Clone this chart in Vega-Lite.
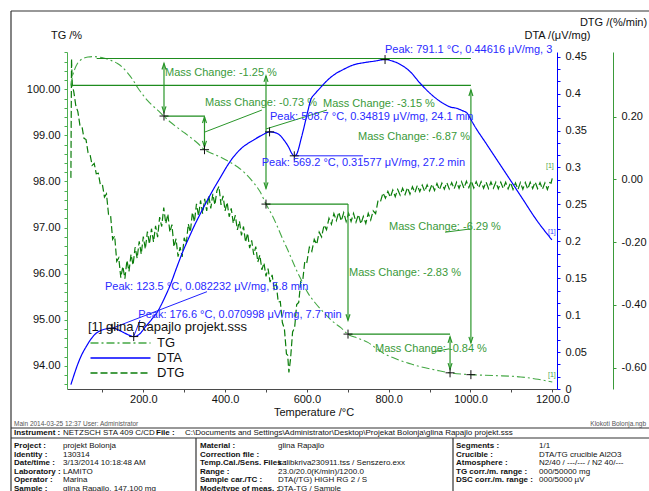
{
  "$schema": "https://vega.github.io/schema/vega-lite/v6.json",
  "width": 490,
  "height": 337,
  "autosize": {"type": "none"},
  "padding": {"left": 67, "top": 52, "right": 92, "bottom": 102},
  "background": "white",
  "config": {
    "font": "Liberation Sans",
    "view": {"stroke": null},
    "axis": {"grid": false, "labelFlush": false, "labelOverlap": false, "labelBound": false},
    "legend": {"labelOffset": 30, "labelAlign": "left", "symbolOffset": 26}
  },
  "datasets": {
    "tg": [
      {"T":23,"TG":100.08},{"T":27,"TG":100.28},{"T":33,"TG":100.45},{"T":39,"TG":100.56},{"T":46,"TG":100.63},{"T":53,"TG":100.67},{"T":65,"TG":100.70},{"T":78,"TG":100.71},{"T":90,"TG":100.70},{"T":103,"TG":100.68},{"T":120,"TG":100.63},{"T":137,"TG":100.56},{"T":150,"TG":100.47},{"T":161,"TG":100.36},{"T":174,"TG":100.21},{"T":186,"TG":100.04},{"T":198,"TG":99.89},{"T":210,"TG":99.76},{"T":222,"TG":99.65},{"T":235,"TG":99.55},{"T":250,"TG":99.42},{"T":266,"TG":99.29},{"T":283,"TG":99.17},{"T":300,"TG":99.06},{"T":315,"TG":98.96},{"T":333,"TG":98.83},{"T":350,"TG":98.69},{"T":370,"TG":98.60},{"T":389,"TG":98.53},{"T":410,"TG":98.43},{"T":430,"TG":98.32},{"T":450,"TG":98.17},{"T":470,"TG":97.97},{"T":486,"TG":97.77},{"T":500,"TG":97.51},{"T":515,"TG":97.27},{"T":528,"TG":97.02},{"T":540,"TG":96.77},{"T":553,"TG":96.52},{"T":565,"TG":96.27},{"T":577,"TG":96.03},{"T":590,"TG":95.80},{"T":602,"TG":95.59},{"T":620,"TG":95.37},{"T":641,"TG":95.16},{"T":665,"TG":94.95},{"T":683,"TG":94.83},{"T":700,"TG":94.69},{"T":725,"TG":94.60},{"T":749,"TG":94.51},{"T":770,"TG":94.38},{"T":788,"TG":94.27},{"T":810,"TG":94.18},{"T":830,"TG":94.11},{"T":855,"TG":94.04},{"T":878,"TG":93.98},{"T":915,"TG":93.91},{"T":950,"TG":93.85},{"T":1001,"TG":93.81},{"T":1060,"TG":93.79},{"T":1123,"TG":93.76},{"T":1165,"TG":93.71},{"T":1200,"TG":93.65}
    ],
    "dta": [
      {"T":23,"v":0.006},{"T":30,"v":0.018},{"T":40,"v":0.034},{"T":50,"v":0.047},{"T":60,"v":0.057},{"T":70,"v":0.066},{"T":80,"v":0.073},{"T":95,"v":0.079},{"T":110,"v":0.0815},{"T":123.5,"v":0.0822},{"T":135,"v":0.081},{"T":150,"v":0.077},{"T":165,"v":0.073},{"T":176.6,"v":0.071},{"T":190,"v":0.074},{"T":205,"v":0.084},{"T":220,"v":0.094},{"T":234,"v":0.104},{"T":250,"v":0.121},{"T":266,"v":0.141},{"T":282,"v":0.165},{"T":298,"v":0.188},{"T":310,"v":0.203},{"T":323,"v":0.219},{"T":340,"v":0.238},{"T":357,"v":0.256},{"T":373,"v":0.272},{"T":389,"v":0.287},{"T":405,"v":0.302},{"T":420,"v":0.314},{"T":440,"v":0.326},{"T":469,"v":0.337},{"T":491,"v":0.344},{"T":508.7,"v":0.3482},{"T":520,"v":0.3475},{"T":531,"v":0.345},{"T":540,"v":0.340},{"T":548,"v":0.334},{"T":556,"v":0.327},{"T":562,"v":0.320},{"T":569.2,"v":0.3158},{"T":575,"v":0.318},{"T":580,"v":0.326},{"T":585,"v":0.337},{"T":591,"v":0.350},{"T":597,"v":0.364},{"T":603,"v":0.378},{"T":609,"v":0.391},{"T":620,"v":0.400},{"T":633,"v":0.408},{"T":650,"v":0.418},{"T":665,"v":0.425},{"T":690,"v":0.433},{"T":714,"v":0.439},{"T":740,"v":0.442},{"T":765,"v":0.444},{"T":791.1,"v":0.4462},{"T":810,"v":0.444},{"T":827,"v":0.440},{"T":852,"v":0.430},{"T":877,"v":0.414},{"T":902,"v":0.400},{"T":927,"v":0.389},{"T":950,"v":0.382},{"T":967,"v":0.380},{"T":980,"v":0.377},{"T":991,"v":0.374},{"T":1000,"v":0.366},{"T":1006,"v":0.360},{"T":1040,"v":0.331},{"T":1089,"v":0.290},{"T":1128,"v":0.257},{"T":1160,"v":0.230},{"T":1199,"v":0.202}
    ],
    "dtg": [
      {"T":23,"d":0.005},{"T":24.5,"d":0.385},{"T":26.5,"d":0.30},{"T":30,"d":0.280},{"T":35,"d":0.235},{"T":40,"d":0.216},{"T":45,"d":0.173},{"T":50,"d":0.169},{"T":55,"d":0.131},{"T":60,"d":0.127},{"T":65,"d":0.085},{"T":70,"d":0.078},{"T":75,"d":0.045},{"T":80,"d":0.051},{"T":85,"d":0.018},{"T":90,"d":0.020},{"T":95,"d":-0.017},{"T":100,"d":-0.016},{"T":105,"d":-0.056},{"T":110,"d":-0.046},{"T":115,"d":-0.112},{"T":120,"d":-0.114},{"T":125,"d":-0.191},{"T":130,"d":-0.180},{"T":135,"d":-0.261},{"T":140,"d":-0.250},{"T":145,"d":-0.313},{"T":150,"d":-0.277},{"T":155,"d":-0.316},{"T":160,"d":-0.258},{"T":165,"d":-0.293},{"T":170,"d":-0.239},{"T":175,"d":-0.273},{"T":180,"d":-0.216},{"T":185,"d":-0.251},{"T":190,"d":-0.197},{"T":195,"d":-0.238},{"T":200,"d":-0.182},{"T":205,"d":-0.222},{"T":210,"d":-0.166},{"T":215,"d":-0.206},{"T":220,"d":-0.157},{"T":225,"d":-0.199},{"T":230,"d":-0.148},{"T":235,"d":-0.184},{"T":240,"d":-0.120},{"T":245,"d":-0.150},{"T":250,"d":-0.090},{"T":255,"d":-0.141},{"T":260,"d":-0.110},{"T":265,"d":-0.168},{"T":270,"d":-0.144},{"T":275,"d":-0.215},{"T":280,"d":-0.189},{"T":285,"d":-0.246},{"T":290,"d":-0.216},{"T":295,"d":-0.247},{"T":300,"d":-0.186},{"T":305,"d":-0.206},{"T":310,"d":-0.142},{"T":315,"d":-0.168},{"T":320,"d":-0.105},{"T":325,"d":-0.135},{"T":330,"d":-0.078},{"T":335,"d":-0.116},{"T":340,"d":-0.067},{"T":345,"d":-0.109},{"T":350,"d":-0.062},{"T":355,"d":-0.100},{"T":360,"d":-0.051},{"T":365,"d":-0.092},{"T":370,"d":-0.046},{"T":375,"d":-0.081},{"T":380,"d":-0.036},{"T":385,"d":-0.022},{"T":390,"d":-0.081},{"T":395,"d":-0.052},{"T":400,"d":-0.100},{"T":405,"d":-0.073},{"T":410,"d":-0.119},{"T":415,"d":-0.092},{"T":420,"d":-0.140},{"T":425,"d":-0.114},{"T":430,"d":-0.161},{"T":435,"d":-0.133},{"T":440,"d":-0.178},{"T":445,"d":-0.150},{"T":450,"d":-0.200},{"T":455,"d":-0.171},{"T":460,"d":-0.219},{"T":465,"d":-0.194},{"T":470,"d":-0.240},{"T":475,"d":-0.214},{"T":480,"d":-0.263},{"T":485,"d":-0.241},{"T":490,"d":-0.288},{"T":495,"d":-0.266},{"T":500,"d":-0.309},{"T":505,"d":-0.284},{"T":510,"d":-0.327},{"T":515,"d":-0.304},{"T":520,"d":-0.349},{"T":525,"d":-0.334},{"T":530,"d":-0.391},{"T":535,"d":-0.389},{"T":540,"d":-0.456},{"T":545,"d":-0.476},{"T":550,"d":-0.556},{"T":553,"d":-0.560},{"T":556,"d":-0.615},{"T":560,"d":-0.572},{"T":565,"d":-0.486},{"T":570,"d":-0.473},{"T":575,"d":-0.399},{"T":580,"d":-0.392},{"T":585,"d":-0.324},{"T":590,"d":-0.320},{"T":595,"d":-0.259},{"T":600,"d":-0.264},
      {"T":606,"d":-0.216},{"T":612,"d":-0.229},{"T":618,"d":-0.191},{"T":624,"d":-0.207},{"T":630,"d":-0.168},{"T":636,"d":-0.183},{"T":642,"d":-0.145},{"T":648,"d":-0.160},{"T":654,"d":-0.124},{"T":660,"d":-0.143},{"T":666,"d":-0.109},{"T":672,"d":-0.131},{"T":678,"d":-0.104},{"T":684,"d":-0.132},{"T":690,"d":-0.106},{"T":696,"d":-0.134},{"T":702,"d":-0.108},{"T":708,"d":-0.134},{"T":714,"d":-0.108},{"T":720,"d":-0.136},{"T":726,"d":-0.112},{"T":732,"d":-0.142},{"T":738,"d":-0.118},{"T":744,"d":-0.140},{"T":750,"d":-0.108},{"T":756,"d":-0.129},{"T":762,"d":-0.100},{"T":768,"d":-0.109},{"T":774,"d":-0.067},{"T":780,"d":-0.070},{"T":786,"d":-0.043},{"T":792,"d":-0.060},{"T":798,"d":-0.038},{"T":804,"d":-0.057},{"T":810,"d":-0.034},{"T":816,"d":-0.055},{"T":822,"d":-0.032},{"T":828,"d":-0.050},{"T":834,"d":-0.028},{"T":840,"d":-0.048},{"T":846,"d":-0.026},{"T":852,"d":-0.047},{"T":858,"d":-0.023},{"T":864,"d":-0.042},{"T":870,"d":-0.019},{"T":876,"d":-0.039},{"T":882,"d":-0.018},{"T":888,"d":-0.038},{"T":894,"d":-0.017},{"T":900,"d":-0.036},{"T":906,"d":-0.015},{"T":912,"d":-0.035},{"T":918,"d":-0.013},{"T":924,"d":-0.033},{"T":930,"d":-0.012},{"T":936,"d":-0.031},{"T":942,"d":-0.010},{"T":948,"d":-0.030},{"T":954,"d":-0.010},{"T":960,"d":-0.030},{"T":966,"d":-0.009},{"T":972,"d":-0.028},{"T":978,"d":-0.007},{"T":984,"d":-0.028},{"T":990,"d":-0.006},{"T":996,"d":-0.026},{"T":1002,"d":-0.005},{"T":1008,"d":-0.027},{"T":1014,"d":-0.007},{"T":1020,"d":-0.027},{"T":1026,"d":-0.007},{"T":1032,"d":-0.028},{"T":1038,"d":-0.008},{"T":1044,"d":-0.029},{"T":1050,"d":-0.008},{"T":1056,"d":-0.028},{"T":1062,"d":-0.009},{"T":1068,"d":-0.030},{"T":1074,"d":-0.009},{"T":1080,"d":-0.029},{"T":1086,"d":-0.009},{"T":1092,"d":-0.030},{"T":1098,"d":-0.010},{"T":1104,"d":-0.032},{"T":1110,"d":-0.011},{"T":1116,"d":-0.032},{"T":1122,"d":-0.010},{"T":1128,"d":-0.031},{"T":1134,"d":-0.010},{"T":1140,"d":-0.031},{"T":1146,"d":-0.009},{"T":1152,"d":-0.029},{"T":1158,"d":-0.008},{"T":1164,"d":-0.029},{"T":1170,"d":-0.010},{"T":1176,"d":-0.031},{"T":1182,"d":-0.011},{"T":1188,"d":-0.032},{"T":1194,"d":-0.010},{"T":1197,"d":-0.012},{"T":1200,"d":0.004}
    ],
    "hLines": [
      {"T1":86,"T2":1001,"TG":100.668},{"T1":25.7,"T2":1001,"TG":100.087},{"T1":250.6,"T2":349.6,"TG":99.42},{"T1":500,"T2":700.5,"TG":97.51},{"T1":700.5,"T2":950,"TG":94.69}
    ],
    "vArrows": [
      {"T":250.6,"TG1":100.56,"TG2":99.50},{"T":349.6,"TG1":99.40,"TG2":98.75},{"T":500,"TG1":100.29,"TG2":97.85},{"T":700.5,"TG1":97.51,"TG2":94.99},{"T":950,"TG1":94.63,"TG2":93.93},{"T":1001,"TG1":99.985,"TG2":94.50}
    ],
    "heads": [
      {"T":250.6,"TG":100.56,"dir":"up"},{"T":250.6,"TG":99.50,"dir":"down"},{"T":349.6,"TG":99.40,"dir":"up"},{"T":349.6,"TG":98.75,"dir":"down"},{"T":500,"TG":100.29,"dir":"up"},{"T":500,"TG":97.85,"dir":"down"},{"T":700.5,"TG":94.99,"dir":"down"},{"T":950,"TG":94.63,"dir":"up"},{"T":950,"TG":93.93,"dir":"down"},{"T":1001,"TG":99.985,"dir":"up"},{"T":1001,"TG":94.50,"dir":"down"}
    ],
    "leaders": [
      {"T1":349.6,"TG1":99.07,"T2":490,"TG2":99.55},{"T1":500,"TG1":99.14,"T2":649,"TG2":99.55},{"T1":938,"TG1":96.90,"T2":999,"TG2":96.97},{"T1":905,"TG1":94.30,"T2":948,"TG2":94.37}
    ],
    "tgMarks": [
      {"T":250.6,"TG":99.42},{"T":349.6,"TG":98.69},{"T":500,"TG":97.51},{"T":700.5,"TG":94.69},{"T":950,"TG":93.85},{"T":1001,"TG":93.81}
    ],
    "mcText": [
      {"T":253,"TG":100.354,"t":"Mass Change: -1.25 %"},{"T":350.9,"TG":99.70,"t":"Mass Change: -0.73 %"},{"T":639.4,"TG":99.68,"t":"Mass Change: -3.15 %"},{"T":725,"TG":98.965,"t":"Mass Change: -6.87 %"},{"T":800.7,"TG":97.01,"t":"Mass Change: -6.29 %"},{"T":703,"TG":96.01,"t":"Mass Change: -2.83 %"},{"T":766.5,"TG":94.37,"t":"Mass Change: -0.84 %"}
    ],
    "peaks": [
      {"T":123.5,"v":0.0822},{"T":176.6,"v":0.071},{"T":508.7,"v":0.3482},{"T":569.2,"v":0.3158},{"T":791.1,"v":0.4462}
    ],
    "peakText": [
      {"T":791,"v":0.4591,"t":"Peak: 791.1 °C, 0.44616 μV/mg, 3"},{"T":509.8,"v":0.3688,"t":"Peak: 508.7 °C, 0.34819 μV/mg, 24.1 min"},{"T":489.5,"v":0.306,"t":"Peak: 569.2 °C, 0.31577 μV/mg, 27.2 min"},{"T":106.4,"v":0.1385,"t":"Peak: 123.5 °C, 0.082232 μV/mg, 5.8 min"},{"T":187.8,"v":0.1002,"t":"Peak: 176.6 °C, 0.070998 μV/mg, 7.7 min"}
    ],
    "peakLeaders": [
      {"T1":123.5,"v1":0.0822,"T2":355.7,"v2":0.1318},{"T1":176.6,"v1":0.071,"T2":192,"v2":0.0934},{"T1":569.2,"v1":0.3158,"T2":737,"v2":0.3158}
    ],
    "tableLines": [
      {"c1":0,"c2":12,"r1":0,"r2":0},{"c1":0,"c2":0,"r1":0,"r2":11},{"c1":0,"c2":12,"r1":2,"r2":2},{"c1":0,"c2":12,"r1":4,"r2":4},{"c1":5,"c2":5,"r1":4,"r2":11},{"c1":8,"c2":8,"r1":4,"r2":11}
    ],
    "tableText": [
      {"c":1,"r":3,"k":"label","t":"Instrument :"},{"c":2,"r":3,"k":"value","t":"NETZSCH STA 409 C/CD"},{"c":3,"r":3,"k":"label","t":"File :"},{"c":4,"r":3,"k":"value","t":"C:\\Documents and Settings\\Administrator\\Desktop\\Projekat Bolonja\\glina Rapajlo projekt.sss"},
      {"c":1,"r":5,"k":"label","t":"Project :"},{"c":2,"r":5,"k":"value","t":"projekt Bolonja"},
      {"c":1,"r":6,"k":"label","t":"Identity :"},{"c":2,"r":6,"k":"value","t":"130314"},
      {"c":1,"r":7,"k":"label","t":"Date/time :"},{"c":2,"r":7,"k":"value","t":"3/13/2014 10:18:48 AM"},
      {"c":1,"r":8,"k":"label","t":"Laboratory :"},{"c":2,"r":8,"k":"value","t":"LAMITO"},
      {"c":1,"r":9,"k":"label","t":"Operator :"},{"c":2,"r":9,"k":"value","t":"Marina"},
      {"c":1,"r":10,"k":"label","t":"Sample :"},{"c":2,"r":10,"k":"value","t":"glina Rapajlo, 147,100 mg"},
      {"c":6,"r":5,"k":"label","t":"Material :"},{"c":7,"r":5,"k":"value","t":"glina Rapajlo"},
      {"c":6,"r":6,"k":"label","t":"Correction file :"},
      {"c":6,"r":7,"k":"label","t":"Temp.Cal./Sens. Files :"},{"c":7,"r":7,"k":"value","t":"kalibkriva230911.tss / Senszero.exx"},
      {"c":6,"r":8,"k":"label","t":"Range :"},{"c":7,"r":8,"k":"value","t":"23.0/20.0(K/min)/1200.0"},
      {"c":6,"r":9,"k":"label","t":"Sample car./TC :"},{"c":7,"r":9,"k":"value","t":"DTA(/TG) HIGH RG 2 / S"},
      {"c":6,"r":10,"k":"label","t":"Mode/type of meas. :"},{"c":7,"r":10,"k":"value","t":"DTA-TG / Sample"},
      {"c":9,"r":5,"k":"label","t":"Segments :"},{"c":10,"r":5,"k":"value","t":"1/1"},
      {"c":9,"r":6,"k":"label","t":"Crucible :"},{"c":10,"r":6,"k":"value","t":"DTA/TG crucible Al2O3"},
      {"c":9,"r":7,"k":"label","t":"Atmosphere :"},{"c":10,"r":7,"k":"value","t":"N2/40 / ---/--- / N2 40/---"},
      {"c":9,"r":8,"k":"label","t":"TG corr./m. range :"},{"c":10,"r":8,"k":"value","t":"000/50000 mg"},
      {"c":9,"r":9,"k":"label","t":"DSC corr./m. range :"},{"c":10,"r":9,"k":"value","t":"000/5000 µV"},
      {"c":1,"r":1,"k":"meta","t":"Main   2014-03-25 12:37   User: Administrator"},
      {"c":11,"r":1,"k":"metaR","t":"Klokoti Bolonja.ngb"}
    ]
  },
  "layer": [
    {
      "layer": [
        {
          "data": {"name": "dtg"},
          "mark": {"type": "line", "strokeWidth": 1.2},
          "encoding": {
            "x": {"field": "T", "type": "quantitative", "scale": {"domain": [13.45, 1211.5], "nice": false, "zero": false}, "axis": null},
            "y": {"field": "d", "type": "quantitative", "scale": {"domain": [-0.6679, 0.4062], "nice": false, "zero": false},
              "axis": {"title": "DTG /(%/min)", "orient": "right", "offset": 56, "values": [-0.6,-0.5,-0.4,-0.3,-0.2,-0.1,0,0.1,0.2,0.3],
                "labelExpr": "abs(datum.value*5 - round(datum.value*5)) < 0.001 ? replace(format(datum.value, '.2f'), '\u2212', '-') : ''",
                "domainColor": "#3a9a3a", "tickColor": "#3a9a3a", "tickSize": 3, "labelPadding": 5, "labelFontSize": 11, "labelColor": "#111",
                "titleFontSize": 11, "titleFontWeight": "normal", "titleColor": "#111", "titleAngle": 0, "titleX": 0, "titleY": -29.5, "titleAlign": "center", "titleBaseline": "middle"}},
            "color": {"datum": "DTG", "type": "nominal", "scale": {"domain": ["TG","DTA","DTG"], "range": ["#45a845","#0000ff","#0a7d0a"]},
              "legend": {"title": "[1] glina Rapajlo projekt.sss", "orient": "none", "legendX": 21, "legendY": 269, "symbolType": "M-6,0H6", "symbolSize": 100, "symbolStrokeWidth": 1.3, "symbolOffset": 26, "labelOffset": 30, "labelAlign": "left", "labelFontSize": 13, "labelColor": "#111", "titleFontSize": 13, "titleFontWeight": "normal", "titleColor": "#111", "titlePadding": 2.5, "rowPadding": 1, "padding": 0, "titleLimit": 300}},
            "strokeDash": {"datum": "DTG", "type": "nominal", "scale": {"domain": ["TG","DTA","DTG"], "range": [[8,3,2,3],[1,0],[7,3]]}}
          }
        },
        {
          "data": {"values": [{"T":1194,"d":0.043,"t":"[1]"}]},
          "mark": {"type": "text", "fontSize": 7, "color": "#4aa64a", "align": "center", "baseline": "middle"},
          "encoding": {
            "x": {"field": "T", "type": "quantitative", "scale": {"domain": [13.45, 1211.5], "nice": false, "zero": false}, "axis": null},
            "y": {"field": "d", "type": "quantitative", "scale": {"domain": [-0.6679, 0.4062], "nice": false, "zero": false}},
            "text": {"field": "t"}
          }
        }
      ]
    },
    {
      "encoding": {
        "x": {"field": "T", "type": "quantitative", "scale": {"domain": [13.45, 1211.5], "nice": false, "zero": false},
          "axis": {"title": "Temperature /°C", "orient": "bottom", "values": [100,200,300,400,500,600,700,800,900,1000,1100,1200],
            "labelExpr": "datum.value % 200 === 0 ? format(datum.value, '.1f') : ''",
            "domainColor": "#4a4a4a", "tickColor": "#4a4a4a", "tickSize": 3, "labelPadding": 1, "labelFontSize": 11, "labelColor": "#111",
            "titleFontSize": 11, "titleFontWeight": "normal", "titleColor": "#111", "titleX": 246.5, "titleY": 23.5, "titleAlign": "center", "titleBaseline": "middle"}},
        "y": {"field": "TG", "type": "quantitative", "scale": {"domain": [93.499, 100.809], "nice": false, "zero": false},
          "axis": {"title": "TG /%", "orient": "left", "values": [93.6,93.8,94,94.2,94.4,94.6,94.8,95,95.2,95.4,95.6,95.8,96,96.2,96.4,96.6,96.8,97,97.2,97.4,97.6,97.8,98,98.2,98.4,98.6,98.8,99,99.2,99.4,99.6,99.8,100,100.2,100.4,100.6,100.8],
            "labelExpr": "abs(datum.value - round(datum.value)) < 0.001 ? format(datum.value, '.2f') : ''",
            "domainColor": "#4caf50", "tickColor": "#4caf50", "tickSize": 3, "labelPadding": 4, "labelFontSize": 11, "labelColor": "#111",
            "titleFontSize": 11, "titleFontWeight": "normal", "titleColor": "#111", "titleAngle": 0, "titleX": -1, "titleY": -17, "titleAlign": "center", "titleBaseline": "middle"}}
      },
      "layer": [
        {
          "data": {"name": "tg"},
          "mark": {"type": "line", "strokeWidth": 1.1, "interpolate": "monotone"},
          "encoding": {
            "color": {"datum": "TG", "type": "nominal", "scale": {"domain": ["TG","DTA","DTG"], "range": ["#45a845","#0000ff","#0a7d0a"]},
              "legend": {"title": "[1] glina Rapajlo projekt.sss", "orient": "none", "legendX": 21, "legendY": 269, "symbolType": "M-6,0H6", "symbolSize": 100, "symbolStrokeWidth": 1.3, "symbolOffset": 26, "labelOffset": 30, "labelAlign": "left", "labelFontSize": 13, "labelColor": "#111", "titleFontSize": 13, "titleFontWeight": "normal", "titleColor": "#111", "titlePadding": 2.5, "rowPadding": 1, "padding": 0, "titleLimit": 300}},
            "strokeDash": {"datum": "TG", "type": "nominal", "scale": {"domain": ["TG","DTA","DTG"], "range": [[8,3,2,3],[1,0],[7,3]]}}
          }
        },
        {
          "data": {"name": "hLines"},
          "mark": {"type": "rule", "color": "#1e8c1e", "strokeWidth": 1.2},
          "encoding": {"x": {"field": "T1", "type": "quantitative"}, "x2": {"field": "T2"}, "y": {"field": "TG", "type": "quantitative"}}
        },
        {
          "data": {"name": "vArrows"},
          "mark": {"type": "rule", "color": "#2a962a", "strokeWidth": 1.2},
          "encoding": {"x": {"field": "T", "type": "quantitative"}, "y": {"field": "TG1", "type": "quantitative"}, "y2": {"field": "TG2"}}
        },
        {
          "data": {"name": "leaders"},
          "mark": {"type": "rule", "color": "#2a962a", "strokeWidth": 1},
          "encoding": {"x": {"field": "T1", "type": "quantitative"}, "x2": {"field": "T2"}, "y": {"field": "TG1", "type": "quantitative"}, "y2": {"field": "TG2"}}
        },
        {
          "data": {"name": "heads"},
          "mark": {"type": "point", "filled": false, "color": "#2a962a", "strokeWidth": 1.2, "size": 16, "opacity": 1},
          "encoding": {"x": {"field": "T", "type": "quantitative"}, "y": {"field": "TG", "type": "quantitative"},
            "shape": {"field": "dir", "type": "nominal", "scale": {"domain": ["up","down"], "range": ["M-1,3L0,0L1,3", "M-1,-3L0,0L1,-3"]}, "legend": null}}
        },
        {
          "data": {"name": "tgMarks"},
          "mark": {"type": "point", "filled": false, "color": "#111", "strokeWidth": 1, "size": 81, "shape": "M-1,0H1M0,-1V1", "opacity": 1},
          "encoding": {"x": {"field": "T", "type": "quantitative"}, "y": {"field": "TG", "type": "quantitative"}}
        },
        {
          "data": {"name": "mcText"},
          "mark": {"type": "text", "align": "left", "baseline": "middle", "fontSize": 11, "color": "#3a9a3a"},
          "encoding": {"x": {"field": "T", "type": "quantitative"}, "y": {"field": "TG", "type": "quantitative"}, "text": {"field": "t"}}
        },
        {
          "data": {"values": [{"T":1199,"TG":93.80,"t":"[1]"}]},
          "mark": {"type": "text", "fontSize": 7, "color": "#4aa64a", "align": "center", "baseline": "middle"},
          "encoding": {"x": {"field": "T", "type": "quantitative"}, "y": {"field": "TG", "type": "quantitative"}, "text": {"field": "t"}}
        }
      ]
    },
    {
      "encoding": {
        "x": {"field": "T", "type": "quantitative", "scale": {"domain": [13.45, 1211.5], "nice": false, "zero": false}, "axis": null},
        "y": {"field": "v", "type": "quantitative", "scale": {"domain": [0, 0.4564], "nice": false, "zero": false},
          "axis": {"title": "DTA /(μV/mg)", "orient": "right", "values": [0,0.016667,0.033333,0.05,0.066667,0.083333,0.1,0.116667,0.133333,0.15,0.166667,0.183333,0.2,0.216667,0.233333,0.25,0.266667,0.283333,0.3,0.316667,0.333333,0.35,0.366667,0.383333,0.4,0.416667,0.433333,0.45],
            "labelExpr": "abs(datum.value*20 - round(datum.value*20)) < 0.001 ? format(datum.value, '~g') : ''",
            "domainColor": "#0000ff", "tickColor": "#0000ff", "tickSize": 3, "labelPadding": 5, "labelFontSize": 11, "labelColor": "#111",
            "titleFontSize": 11, "titleFontWeight": "normal", "titleColor": "#111", "titleAngle": 0, "titleX": 0, "titleY": -17, "titleAlign": "center", "titleBaseline": "middle"}}
      },
      "layer": [
        {
          "data": {"name": "dta"},
          "mark": {"type": "line", "strokeWidth": 1.2, "interpolate": "monotone"},
          "encoding": {
            "color": {"datum": "DTA", "type": "nominal", "scale": {"domain": ["TG","DTA","DTG"], "range": ["#45a845","#0000ff","#0a7d0a"]},
              "legend": {"title": "[1] glina Rapajlo projekt.sss", "orient": "none", "legendX": 21, "legendY": 269, "symbolType": "M-6,0H6", "symbolSize": 100, "symbolStrokeWidth": 1.3, "symbolOffset": 26, "labelOffset": 30, "labelAlign": "left", "labelFontSize": 13, "labelColor": "#111", "titleFontSize": 13, "titleFontWeight": "normal", "titleColor": "#111", "titlePadding": 2.5, "rowPadding": 1, "padding": 0, "titleLimit": 300}},
            "strokeDash": {"datum": "DTA", "type": "nominal", "scale": {"domain": ["TG","DTA","DTG"], "range": [[8,3,2,3],[1,0],[7,3]]}}
          }
        },
        {
          "data": {"name": "peakLeaders"},
          "mark": {"type": "rule", "color": "#2020ff", "strokeWidth": 1},
          "encoding": {"x": {"field": "T1", "type": "quantitative"}, "x2": {"field": "T2"}, "y": {"field": "v1", "type": "quantitative"}, "y2": {"field": "v2"}}
        },
        {
          "data": {"name": "peaks"},
          "mark": {"type": "point", "filled": false, "color": "#111", "strokeWidth": 1, "size": 81, "shape": "M-1,0H1M0,-1V1", "opacity": 1},
          "encoding": {"x": {"field": "T", "type": "quantitative"}, "y": {"field": "v", "type": "quantitative"}}
        },
        {
          "data": {"name": "peakText"},
          "mark": {"type": "text", "align": "left", "baseline": "middle", "fontSize": 11, "color": "#2a2aff"},
          "encoding": {"x": {"field": "T", "type": "quantitative"}, "y": {"field": "v", "type": "quantitative"}, "text": {"field": "t"}}
        },
        {
          "data": {"values": [{"T":1199,"v":0.2126,"t":"[1]"}]},
          "mark": {"type": "text", "fontSize": 7, "color": "#3b3bff", "align": "center", "baseline": "middle"},
          "encoding": {"x": {"field": "T", "type": "quantitative"}, "y": {"field": "v", "type": "quantitative"}, "text": {"field": "t"}}
        }
      ]
    },
    {
      "encoding": {
        "x": {"field": "c", "type": "quantitative", "axis": null,
          "scale": {"domain": [0,1,2,3,4,5,6,7,8,9,10,11,12], "range": [-56,-53,-4,89,118,129,133,211,386,389,472,579,582], "nice": false, "zero": false}},
        "y": {"field": "r", "type": "quantitative", "axis": null,
          "scale": {"domain": [0,1,2,3,4,5,6,7,8,9,10,11], "range": [-41,371.5,376,381,386,394,402.7,411,419.5,428,436.5,439], "nice": false, "zero": false}}
      },
      "layer": [
        {
          "data": {"name": "tableLines"},
          "mark": {"type": "rule", "color": "#333", "strokeWidth": 1.2},
          "encoding": {"x": {"field": "c1", "type": "quantitative"}, "x2": {"field": "c2"}, "y": {"field": "r1", "type": "quantitative"}, "y2": {"field": "r2"}}
        },
        {
          "data": {"name": "tableText"},
          "transform": [{"filter": "datum.k === 'label'"}],
          "mark": {"type": "text", "align": "left", "baseline": "middle", "fontSize": 8, "fontWeight": "bold", "color": "#111"},
          "encoding": {"text": {"field": "t"}}
        },
        {
          "data": {"name": "tableText"},
          "transform": [{"filter": "datum.k === 'value'"}],
          "mark": {"type": "text", "align": "left", "baseline": "middle", "fontSize": 8, "color": "#111"},
          "encoding": {"text": {"field": "t"}}
        },
        {
          "data": {"name": "tableText"},
          "transform": [{"filter": "datum.k === 'meta'"}],
          "mark": {"type": "text", "align": "left", "baseline": "middle", "fontSize": 6.5, "color": "#555"},
          "encoding": {"text": {"field": "t"}}
        },
        {
          "data": {"name": "tableText"},
          "transform": [{"filter": "datum.k === 'metaR'"}],
          "mark": {"type": "text", "align": "right", "baseline": "middle", "fontSize": 6.5, "color": "#555"},
          "encoding": {"text": {"field": "t"}}
        }
      ]
    }
  ],
  "resolve": {"scale": {"x": "independent", "y": "independent"}}
}
